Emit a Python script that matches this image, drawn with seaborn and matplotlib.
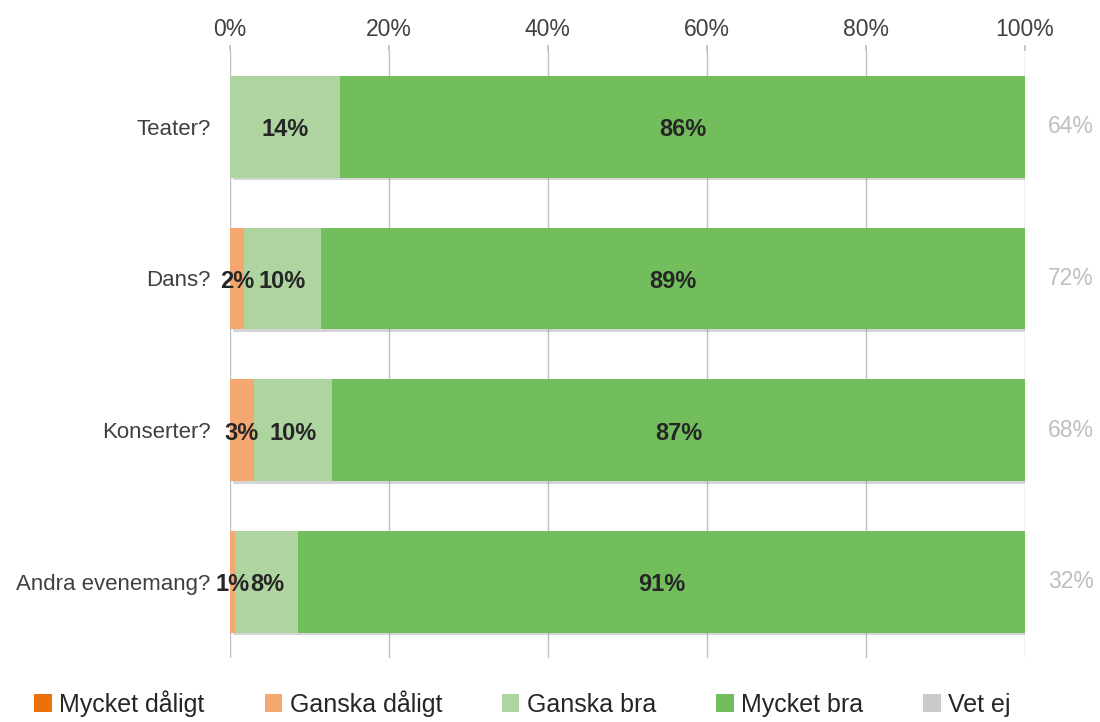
import numpy as np
import pandas as pd
import matplotlib.pyplot as plt
import matplotlib.patheffects as pe
from matplotlib.patches import Patch
import seaborn as sns

# andelar per svarsalternativ (%), läst från bilden
categories = ["Teater?", "Dans?", "Konserter?", "Andra evenemang?"]
mycket_daligt = [0.0, 0.0, 0.0, 0.0]
ganska_daligt = [0.0, 1.8, 3.0, 0.7]
ganska_bra = [13.9, 9.6, 9.9, 7.9]
mycket_bra = [86.1, 88.6, 87.1, 91.4]
vet_ej = [0.0, 0.0, 0.0, 0.0]
svarsandel = [64, 72, 68, 32]

series = ["Mycket dåligt", "Ganska dåligt", "Ganska bra", "Mycket bra", "Vet ej"]
colors = ["#EE700B", "#F4A76F", "#AED4A0", "#72BE5D", "#C9C9C9"]

sns.set_theme(style="white")
plt.rcParams["font.family"] = ["Liberation Sans", "DejaVu Sans"]

df = pd.DataFrame({"kategori": categories,
                   series[0]: mycket_daligt, series[1]: ganska_daligt,
                   series[2]: ganska_bra, series[3]: mycket_bra, series[4]: vet_ej})
cum = df[series].cumsum(axis=1)

fig = plt.figure(figsize=(11, 7.22), dpi=100)
ax = fig.add_axes([0.209, 0.0893, 0.7227, 0.8400])

# stacked bars: draw cumulative totals from the outermost layer inwards
for k in range(len(series) - 1, -1, -1):
    n_before = len(ax.patches)
    sns.barplot(x=cum[series[k]], y=df["kategori"], orient="h", color=colors[k],
                width=0.67, saturation=1, ax=ax, linewidth=0)
    if k == len(series) - 1:
        for p in ax.patches[n_before:]:
            p.set_path_effects([pe.SimplePatchShadow(offset=(2, -2), shadow_rgbFace="#888888", alpha=0.35),
                                pe.Normal()])

# data labels
for i in range(len(categories)):
    start = 0.0
    for s in series:
        v = df[s][i]
        if v > 0:
            ax.text(start + v / 2, i + 0.02, f"{round(v)}%", ha="center", va="center",
                    fontsize=17, fontweight="bold", color="#262626")
        start += v
    ax.text(102.9, i, f"{svarsandel[i]}%", ha="left", va="center", fontsize=16.5,
            color="#BFBFBF", clip_on=False)

ax.set_xlim(0, 100)
ax.set_xticks(np.arange(0, 101, 20))
ax.set_xticklabels([f"{t}%" for t in range(0, 101, 20)])
ax.xaxis.tick_top()
ax.tick_params(axis="x", length=4, color="#BFBFBF", pad=3, labelsize=16.5, labelcolor="#404040")
ax.tick_params(axis="y", length=0, pad=14, labelsize=16, labelcolor="#404040")
ax.grid(axis="x", color="#BFBFBF", linewidth=1)
ax.set_axisbelow(True)
ax.set_xlabel("")
ax.set_ylabel("")
for sp in ax.spines.values():
    sp.set_visible(False)

handles = [Patch(facecolor=c, edgecolor="none") for c in colors]
fig.legend(handles, series, loc="center", bbox_to_anchor=(0.475, 0.026), ncol=5,
           frameon=False, fontsize=18, handlelength=0.7, handleheight=0.7,
           handletextpad=0.3, columnspacing=2.4, labelcolor="#262626")

fig.savefig("out.png", dpi=100)
